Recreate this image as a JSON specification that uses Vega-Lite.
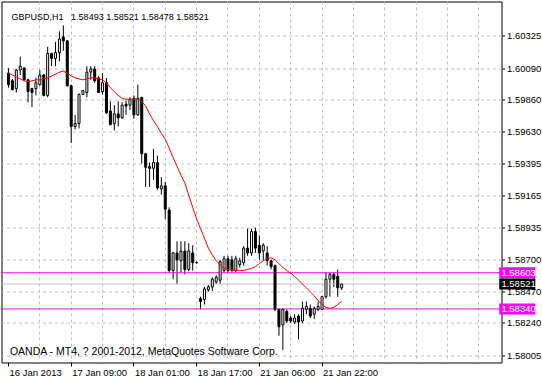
{
"$schema": "https://vega.github.io/schema/vega-lite/v6.json",
"width": 500, "height": 361,
"autosize": {"type": "none"},
"padding": {"left": 1.5, "top": 1.5, "right": 40.5, "bottom": 17.5},
"background": "white",
"config": {
  "view": {"stroke": "black", "strokeWidth": 1, "fill": "white"},
  "axis": {"labelFont": "Liberation Sans", "labelFontSize": 9.5, "labelColor": "black", "tickColor": "black", "tickWidth": 1}
},
"datasets": {
  "bars": [
{"i":0,"o":1.60054,"h":1.60090,"l":1.59948,"c":1.59970,"ma":1.60054},
{"i":1,"o":1.59998,"h":1.60012,"l":1.59927,"c":1.59934,"ma":1.60040},
{"i":2,"o":1.59941,"h":1.60083,"l":1.59913,"c":1.60076,"ma":1.60026},
{"i":3,"o":1.60076,"h":1.60174,"l":1.60040,"c":1.60104,"ma":1.60012},
{"i":4,"o":1.60090,"h":1.60097,"l":1.59998,"c":1.60005,"ma":1.59998},
{"i":5,"o":1.60005,"h":1.60012,"l":1.59842,"c":1.59920,"ma":1.59991},
{"i":6,"o":1.59941,"h":1.59948,"l":1.59807,"c":1.59913,"ma":1.59998},
{"i":7,"o":1.59941,"h":1.60019,"l":1.59892,"c":1.59984,"ma":1.60005},
{"i":8,"o":1.59970,"h":1.60076,"l":1.59962,"c":1.60040,"ma":1.60005},
{"i":9,"o":1.60040,"h":1.60047,"l":1.59885,"c":1.59892,"ma":1.60012},
{"i":10,"o":1.59892,"h":1.60245,"l":1.59878,"c":1.60196,"ma":1.60019},
{"i":11,"o":1.60196,"h":1.60203,"l":1.60104,"c":1.60160,"ma":1.60033},
{"i":12,"o":1.60160,"h":1.60281,"l":1.60104,"c":1.60203,"ma":1.60047},
{"i":13,"o":1.60203,"h":1.60358,"l":1.60139,"c":1.60302,"ma":1.60061},
{"i":14,"o":1.60316,"h":1.60401,"l":1.60217,"c":1.60288,"ma":1.60068},
{"i":15,"o":1.60288,"h":1.60295,"l":1.59955,"c":1.59962,"ma":1.60054},
{"i":16,"o":1.59962,"h":1.59970,"l":1.59546,"c":1.59666,"ma":1.60033},
{"i":17,"o":1.59666,"h":1.59750,"l":1.59644,"c":1.59687,"ma":1.60019},
{"i":18,"o":1.59687,"h":1.59906,"l":1.59652,"c":1.59899,"ma":1.60012},
{"i":19,"o":1.59899,"h":1.59927,"l":1.59899,"c":1.59927,"ma":1.60005},
{"i":20,"o":1.59913,"h":1.60104,"l":1.59878,"c":1.60061,"ma":1.60012},
{"i":21,"o":1.60061,"h":1.60104,"l":1.60005,"c":1.60083,"ma":1.60019},
{"i":22,"o":1.60083,"h":1.60104,"l":1.59984,"c":1.59998,"ma":1.60019},
{"i":23,"o":1.60019,"h":1.60033,"l":1.59913,"c":1.59913,"ma":1.60012},
{"i":24,"o":1.59920,"h":1.60054,"l":1.59899,"c":1.59984,"ma":1.60005},
{"i":25,"o":1.59984,"h":1.60019,"l":1.59758,"c":1.59765,"ma":1.59984},
{"i":26,"o":1.59779,"h":1.59849,"l":1.59673,"c":1.59680,"ma":1.59948},
{"i":27,"o":1.59687,"h":1.59821,"l":1.59637,"c":1.59758,"ma":1.59920},
{"i":28,"o":1.59758,"h":1.59849,"l":1.59666,"c":1.59729,"ma":1.59892},
{"i":29,"o":1.59729,"h":1.59842,"l":1.59722,"c":1.59821,"ma":1.59871},
{"i":30,"o":1.59828,"h":1.59856,"l":1.59750,"c":1.59814,"ma":1.59864},
{"i":31,"o":1.59821,"h":1.59878,"l":1.59786,"c":1.59864,"ma":1.59864},
{"i":32,"o":1.59871,"h":1.59892,"l":1.59722,"c":1.59750,"ma":1.59864},
{"i":33,"o":1.59750,"h":1.59970,"l":1.59743,"c":1.59871,"ma":1.59864},
{"i":34,"o":1.59878,"h":1.59878,"l":1.59397,"c":1.59468,"ma":1.59849},
{"i":35,"o":1.59468,"h":1.59475,"l":1.59227,"c":1.59369,"ma":1.59814},
{"i":36,"o":1.59376,"h":1.59404,"l":1.59227,"c":1.59362,"ma":1.59758},
{"i":37,"o":1.59362,"h":1.59503,"l":1.59277,"c":1.59404,"ma":1.59708},
{"i":38,"o":1.59404,"h":1.59454,"l":1.59206,"c":1.59220,"ma":1.59666},
{"i":39,"o":1.59213,"h":1.59298,"l":1.59171,"c":1.59235,"ma":1.59616},
{"i":40,"o":1.59235,"h":1.59263,"l":1.58994,"c":1.59065,"ma":1.59574},
{"i":41,"o":1.59058,"h":1.59079,"l":1.58606,"c":1.58620,"ma":1.59510},
{"i":42,"o":1.58620,"h":1.58754,"l":1.58556,"c":1.58747,"ma":1.59440},
{"i":43,"o":1.58747,"h":1.58832,"l":1.58521,"c":1.58697,"ma":1.59376},
{"i":44,"o":1.58690,"h":1.58832,"l":1.58606,"c":1.58761,"ma":1.59312},
{"i":45,"o":1.58761,"h":1.58832,"l":1.58591,"c":1.58627,"ma":1.59256},
{"i":46,"o":1.58627,"h":1.58818,"l":1.58613,"c":1.58761,"ma":1.59164},
{"i":47,"o":1.58747,"h":1.58803,"l":1.58620,"c":1.58676,"ma":1.59079},
{"i":48,"o":1.58676,"h":1.58683,"l":1.58669,"c":1.58676,"ma":1.58994},
{"i":49,"o":1.58415,"h":1.58429,"l":1.58337,"c":1.58394,"ma":1.58924},
{"i":50,"o":1.58408,"h":1.58500,"l":1.58372,"c":1.58485,"ma":1.58853},
{"i":51,"o":1.58478,"h":1.58514,"l":1.58464,"c":1.58500,"ma":1.58782},
{"i":52,"o":1.58500,"h":1.58570,"l":1.58471,"c":1.58556,"ma":1.58733},
{"i":53,"o":1.58535,"h":1.58584,"l":1.58521,"c":1.58570,"ma":1.58690},
{"i":54,"o":1.58549,"h":1.58697,"l":1.58521,"c":1.58683,"ma":1.58662},
{"i":55,"o":1.58620,"h":1.58726,"l":1.58606,"c":1.58705,"ma":1.58634},
{"i":56,"o":1.58705,"h":1.58726,"l":1.58606,"c":1.58620,"ma":1.58627},
{"i":57,"o":1.58697,"h":1.58726,"l":1.58606,"c":1.58620,"ma":1.58620},
{"i":58,"o":1.58620,"h":1.58726,"l":1.58606,"c":1.58705,"ma":1.58620},
{"i":59,"o":1.58662,"h":1.58712,"l":1.58641,"c":1.58690,"ma":1.58620},
{"i":60,"o":1.58676,"h":1.58796,"l":1.58655,"c":1.58782,"ma":1.58620},
{"i":61,"o":1.58782,"h":1.58924,"l":1.58726,"c":1.58747,"ma":1.58627},
{"i":62,"o":1.58747,"h":1.58924,"l":1.58726,"c":1.58902,"ma":1.58634},
{"i":63,"o":1.58902,"h":1.58931,"l":1.58747,"c":1.58782,"ma":1.58648},
{"i":64,"o":1.58803,"h":1.58874,"l":1.58697,"c":1.58747,"ma":1.58669},
{"i":65,"o":1.58761,"h":1.58818,"l":1.58690,"c":1.58803,"ma":1.58690},
{"i":66,"o":1.58747,"h":1.58796,"l":1.58655,"c":1.58690,"ma":1.58705},
{"i":67,"o":1.58690,"h":1.58697,"l":1.58627,"c":1.58648,"ma":1.58712},
{"i":68,"o":1.58655,"h":1.58662,"l":1.58323,"c":1.58337,"ma":1.58697},
{"i":69,"o":1.58337,"h":1.58337,"l":1.58146,"c":1.58210,"ma":1.58669},
{"i":70,"o":1.58224,"h":1.58344,"l":1.58040,"c":1.58337,"ma":1.58641},
{"i":71,"o":1.58323,"h":1.58337,"l":1.58238,"c":1.58252,"ma":1.58620},
{"i":72,"o":1.58274,"h":1.58288,"l":1.58238,"c":1.58252,"ma":1.58599},
{"i":73,"o":1.58245,"h":1.58302,"l":1.58231,"c":1.58274,"ma":1.58577},
{"i":74,"o":1.58288,"h":1.58302,"l":1.58118,"c":1.58245,"ma":1.58549},
{"i":75,"o":1.58252,"h":1.58394,"l":1.58238,"c":1.58344,"ma":1.58521},
{"i":76,"o":1.58337,"h":1.58394,"l":1.58302,"c":1.58358,"ma":1.58493},
{"i":77,"o":1.58344,"h":1.58372,"l":1.58274,"c":1.58288,"ma":1.58464},
{"i":78,"o":1.58302,"h":1.58358,"l":1.58266,"c":1.58344,"ma":1.58436},
{"i":79,"o":1.58337,"h":1.58394,"l":1.58323,"c":1.58358,"ma":1.58401},
{"i":80,"o":1.58337,"h":1.58436,"l":1.58330,"c":1.58429,"ma":1.58372},
{"i":81,"o":1.58429,"h":1.58606,"l":1.58415,"c":1.58556,"ma":1.58351},
{"i":82,"o":1.58556,"h":1.58606,"l":1.58429,"c":1.58591,"ma":1.58344},
{"i":83,"o":1.58591,"h":1.58606,"l":1.58500,"c":1.58556,"ma":1.58351},
{"i":84,"o":1.58577,"h":1.58627,"l":1.58429,"c":1.58493,"ma":1.58372},
{"i":85,"o":1.58493,"h":1.58521,"l":1.58478,"c":1.58521,"ma":1.58394}
  ],
  "levels": [
    {"p": 1.58603, "k": "alert"},
    {"p": 1.58340, "k": "alert"},
    {"p": 1.58521, "k": "bid"}
  ]
},
"layer": [
  {
    "data": {"name": "bars"},
    "mark": {"type": "rule", "color": "black", "strokeWidth": 1},
    "encoding": {
      "x": {"field": "i", "type": "quantitative", "title": null,
        "scale": {"domain": [-0.5, 124.5], "nice": false, "zero": false},
        "axis": {
          "values": [0, 8, 16, 24, 32, 40, 48, 56, 64, 72, 80, 88, 96, 104, 112, 120],
          "tickCount": 200,
          "domain": false, "translate": 0,
          "grid": true, "gridColor": "#c0c0c0", "gridDash": [3, 3],
          "gridOpacity": {"condition": {"test": "datum.value == 0", "value": 0}, "value": 1},
          "tickSize": 4,
          "tickOpacity": {"condition": {"test": "datum.value % 16 == 0 && datum.value <= 80", "value": 1}, "value": 0},
          "labelExpr": "datum.value == 0 ? '16 Jan 2013' : datum.value == 16 ? '17 Jan 09:00' : datum.value == 32 ? '18 Jan 01:00' : datum.value == 48 ? '18 Jan 17:00' : datum.value == 64 ? '21 Jan 06:00' : datum.value == 80 ? '21 Jan 22:00' : ''",
          "labelAlign": "left", "labelBaseline": "top", "labelPadding": 1, "labelOffset": 1,
          "labelFlush": false, "labelOverlap": false
        }},
      "y": {"field": "l", "type": "quantitative", "title": null,
        "scale": {"domain": [1.57987, 1.60538], "nice": false, "zero": false},
        "axis": {
          "orient": "right",
          "values": [1.60325, 1.60090, 1.59860, 1.59630, 1.59395, 1.59165, 1.58935, 1.58700, 1.58470, 1.58240, 1.58005],
          "tickCount": 200,
          "format": ".5f",
          "domain": false,
          "grid": true, "gridColor": "#c0c0c0", "gridDash": [3, 3],
          "tickSize": 3, "labelPadding": 2,
          "labelAlign": "left", "labelBaseline": "middle",
          "labelFlush": false, "labelOverlap": false
        }},
      "y2": {"field": "h"}
    }
  },
  {
    "data": {"name": "levels"},
    "mark": {"type": "rule", "strokeWidth": 1},
    "encoding": {
      "y": {"field": "p", "type": "quantitative", "title": null},
      "color": {"field": "k", "type": "nominal", "scale": {"domain": ["alert", "bid"], "range": ["#ff00ff", "#c0c0c0"]}, "legend": null}
    }
  },
  {
    "data": {"name": "bars"},
    "mark": {"type": "bar", "size": 2, "stroke": "black", "strokeWidth": 1},
    "encoding": {
      "x": {"field": "i", "type": "quantitative", "title": null},
      "y": {"field": "o", "type": "quantitative", "title": null},
      "y2": {"field": "c"},
      "fill": {"condition": {"test": "datum.c >= datum.o", "value": "white"}, "value": "black"}
    }
  },
  {
    "data": {"name": "bars"},
    "mark": {"type": "line", "color": "#ff0000", "strokeWidth": 1},
    "encoding": {
      "x": {"field": "i", "type": "quantitative", "title": null},
      "y": {"field": "ma", "type": "quantitative", "title": null}
    }
  },
  {
    "data": {"name": "levels"},
    "mark": {"type": "bar", "size": 11},
    "encoding": {
      "x": {"datum": 125.2, "type": "quantitative", "title": null},
      "x2": {"datum": 134.4},
      "y": {"field": "p", "type": "quantitative", "title": null},
      "fill": {"field": "k", "type": "nominal", "scale": {"domain": ["alert", "bid"], "range": ["#ff00ff", "#000000"]}, "legend": null}
    }
  },
  {
    "data": {"name": "levels"},
    "mark": {"type": "text", "align": "left", "baseline": "middle", "color": "white", "font": "Liberation Sans", "fontSize": 9.5},
    "encoding": {
      "x": {"datum": 125.75, "type": "quantitative", "title": null},
      "y": {"field": "p", "type": "quantitative", "title": null},
      "text": {"field": "p", "type": "quantitative", "format": ".5f"}
    }
  },
  {
    "data": {"values": [{"txt": "GBPUSD,H1\u00a0\u00a0 1.58493 1.58521 1.58478 1.58521"}]},
    "mark": {"type": "text", "align": "left", "baseline": "alphabetic", "color": "black", "font": "Liberation Sans", "fontSize": 9},
    "encoding": {
      "x": {"datum": 0.8, "type": "quantitative", "title": null},
      "y": {"datum": 1.60443, "type": "quantitative", "title": null},
      "text": {"field": "txt"}
    }
  },
  {
    "data": {"values": [{"txt": "OANDA - MT4, ? 2001-2012, MetaQuotes Software Corp."}]},
    "mark": {"type": "text", "align": "left", "baseline": "alphabetic", "color": "black", "font": "Liberation Sans", "fontSize": 10.5},
    "encoding": {
      "x": {"datum": 0.375, "type": "quantitative", "title": null},
      "y": {"datum": 1.58008, "type": "quantitative", "title": null},
      "text": {"field": "txt"}
    }
  }
]
}
